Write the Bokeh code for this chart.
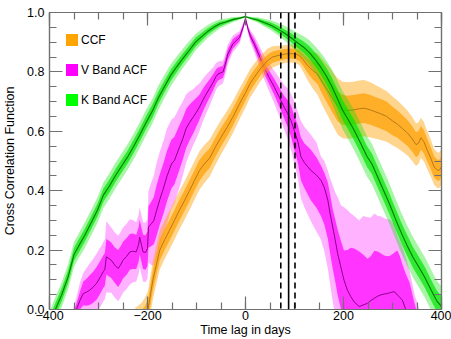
import numpy as np
from bokeh.plotting import figure
from bokeh.models import (ColumnDataSource, LinearAxis, SingleIntervalTicker, Span,
                          Legend, LegendItem, PrintfTickFormatter, Range1d,
                          CustomLabelingPolicy)
from bokeh.embed import file_html
from bokeh.resources import INLINE

# ---------------- data ----------------
# K band ACF
k_days = [-400, -388, -375, -362, -350, -340, -328, -315, -302, -290,
          -278, -265, -252, -240, -228, -215, -202, -190, -178, -165,
          -152, -140, -128, -115, -102, -90, -78, -65, -52, -40,
          -26, -12, 0, 12, 25, 38, 52, 66, 80, 93,
          106, 118, 130, 142, 154, 165, 176, 187, 198, 210,
          222, 235, 248, 258, 270, 282, 294, 306, 318, 330,
          342, 354, 366, 378, 390, 400]
k_acf = [-0.050, 0.000, 0.050, 0.110, 0.185, 0.215, 0.250, 0.292, 0.335, 0.385,
         0.415, 0.452, 0.485, 0.515, 0.550, 0.590, 0.632, 0.668, 0.712, 0.752,
         0.790, 0.818, 0.845, 0.872, 0.900, 0.918, 0.935, 0.950, 0.962, 0.968,
         0.976, 0.981, 0.986, 0.980, 0.975, 0.966, 0.957, 0.944, 0.930, 0.915,
         0.898, 0.884, 0.866, 0.842, 0.815, 0.786, 0.752, 0.712, 0.672, 0.638,
         0.603, 0.560, 0.515, 0.490, 0.445, 0.400, 0.355, 0.305, 0.258, 0.215,
         0.175, 0.142, 0.108, 0.068, 0.030, 0.010]
k_err1 = [0.022, 0.022, 0.022, 0.022, 0.022, 0.022, 0.022, 0.022, 0.022, 0.022,
          0.022, 0.022, 0.022, 0.022, 0.022, 0.022, 0.022, 0.022, 0.021, 0.020,
          0.019, 0.018, 0.017, 0.016, 0.015, 0.013, 0.011, 0.010, 0.008, 0.006,
          0.005, 0.003, 0.001, 0.003, 0.005, 0.007, 0.009, 0.011, 0.013, 0.015,
          0.017, 0.019, 0.021, 0.023, 0.025, 0.027, 0.029, 0.031, 0.033, 0.034,
          0.035, 0.035, 0.035, 0.035, 0.035, 0.035, 0.035, 0.035, 0.035, 0.035,
          0.035, 0.035, 0.035, 0.035, 0.035, 0.035]
k_err2 = [0.042, 0.042, 0.042, 0.042, 0.042, 0.042, 0.043, 0.043, 0.043, 0.043,
          0.043, 0.043, 0.043, 0.043, 0.043, 0.043, 0.043, 0.042, 0.041, 0.039,
          0.037, 0.035, 0.033, 0.031, 0.028, 0.025, 0.022, 0.019, 0.015, 0.012,
          0.009, 0.005, 0.002, 0.005, 0.009, 0.013, 0.017, 0.021, 0.025, 0.029,
          0.033, 0.037, 0.041, 0.045, 0.049, 0.053, 0.057, 0.061, 0.064, 0.066,
          0.068, 0.068, 0.068, 0.068, 0.068, 0.068, 0.068, 0.068, 0.068, 0.068,
          0.068, 0.068, 0.068, 0.068, 0.068, 0.068]

# V band ACF (bands are asymmetric on the right-hand side)
v_days = [-352, -345, -338, -331, -325, -318, -311, -304, -296, -290,
          -287, -284, -279, -274, -267, -260, -255, -250, -243, -236,
          -230, -223, -218, -216, -212, -209, -204, -200, -198, -192,
          -187, -182, -175, -168, -160, -151, -145, -135, -128, -121,
          -114, -107, -100, -94, -87, -80, -73, -66, -60, -56,
          -50, -46, -43, -39, -36, -30, -26, -19, -12, -5,
          0, 5, 10, 18, 28, 38, 48, 59, 69, 79,
          86, 93, 100, 107, 113, 120, 133, 145, 154, 161,
          168, 173, 178, 183, 188, 195, 201, 208, 215, 222,
          232, 240, 249, 256, 263, 270, 276, 283, 290, 296,
          303, 307, 310, 315, 320, 327, 335, 345, 355]
v_acf = [-0.020, 0.000, 0.030, 0.054, 0.058, 0.065, 0.075, 0.088, 0.110, 0.128,
         0.135, 0.177, 0.172, 0.166, 0.150, 0.138, 0.150, 0.166, 0.178, 0.194,
         0.196, 0.194, 0.220, 0.244, 0.215, 0.194, 0.192, 0.205, 0.278, 0.289,
         0.300, 0.330, 0.370, 0.405, 0.450, 0.490, 0.502, 0.545, 0.575, 0.610,
         0.630, 0.647, 0.665, 0.681, 0.705, 0.726, 0.745, 0.765, 0.785, 0.793,
         0.797, 0.800, 0.815, 0.840, 0.860, 0.880, 0.894, 0.905, 0.916, 0.950,
         0.980, 0.945, 0.920, 0.894, 0.855, 0.815, 0.782, 0.748, 0.715, 0.681,
         0.660, 0.636, 0.600, 0.565, 0.515, 0.495, 0.469, 0.452, 0.435, 0.410,
         0.368, 0.320, 0.278, 0.235, 0.189, 0.140, 0.099, 0.065, 0.043, 0.025,
         0.010, 0.015, 0.021, 0.030, 0.038, 0.045, 0.049, 0.052, 0.054, 0.057,
         0.060, 0.055, 0.049, 0.040, 0.032, 0.000, -0.050, -0.120, -0.200]
v_dark_lo = [0.010, 0.020, 0.030, 0.040, 0.045, 0.050, 0.052, 0.055, 0.055, 0.055,
             0.055, 0.060, 0.060, 0.060, 0.060, 0.062, 0.062, 0.062, 0.062, 0.060,
             0.060, 0.058, 0.058, 0.058, 0.058, 0.058, 0.058, 0.058, 0.070, 0.075,
             0.080, 0.085, 0.085, 0.085, 0.085, 0.082, 0.080, 0.075, 0.070, 0.065,
             0.060, 0.055, 0.048, 0.042, 0.038, 0.034, 0.030, 0.027, 0.024, 0.022,
             0.021, 0.020, 0.020, 0.019, 0.018, 0.017, 0.016, 0.014, 0.012, 0.008,
             0.003, 0.008, 0.012, 0.015, 0.018, 0.020, 0.023, 0.027, 0.032, 0.038,
             0.045, 0.055, 0.065, 0.072, 0.080, 0.085, 0.100, 0.110, 0.120, 0.125,
             0.130, 0.135, 0.140, 0.140, 0.140, 0.140, 0.140, 0.140, 0.140, 0.140,
             0.140, 0.140, 0.140, 0.140, 0.140, 0.140, 0.140, 0.140, 0.140, 0.140,
             0.140, 0.140, 0.140, 0.140, 0.140, 0.140, 0.140, 0.140, 0.140]
v_dark_hi = [0.010, 0.020, 0.030, 0.040, 0.045, 0.050, 0.052, 0.055, 0.055, 0.055,
             0.055, 0.060, 0.060, 0.060, 0.060, 0.062, 0.062, 0.062, 0.062, 0.060,
             0.060, 0.058, 0.058, 0.058, 0.058, 0.058, 0.058, 0.058, 0.070, 0.075,
             0.080, 0.085, 0.085, 0.085, 0.085, 0.082, 0.080, 0.075, 0.070, 0.065,
             0.060, 0.055, 0.048, 0.042, 0.038, 0.034, 0.030, 0.027, 0.024, 0.022,
             0.021, 0.020, 0.020, 0.019, 0.018, 0.017, 0.016, 0.014, 0.012, 0.008,
             0.003, 0.008, 0.012, 0.015, 0.018, 0.020, 0.023, 0.027, 0.032, 0.038,
             0.045, 0.050, 0.050, 0.055, 0.065, 0.065, 0.070, 0.060, 0.050, 0.050,
             0.060, 0.065, 0.060, 0.070, 0.080, 0.090, 0.100, 0.135, 0.165, 0.180,
             0.185, 0.170, 0.150, 0.150, 0.160, 0.150, 0.140, 0.130, 0.125, 0.125,
             0.130, 0.140, 0.150, 0.140, 0.120, 0.120, 0.140, 0.140, 0.160]
v_light_lo = [0.020, 0.040, 0.060, 0.070, 0.080, 0.090, 0.095, 0.100, 0.100, 0.100,
              0.100, 0.120, 0.115, 0.110, 0.110, 0.110, 0.110, 0.110, 0.110, 0.110,
              0.105, 0.100, 0.100, 0.100, 0.100, 0.100, 0.100, 0.100, 0.120, 0.140,
              0.150, 0.160, 0.160, 0.160, 0.160, 0.150, 0.145, 0.135, 0.125, 0.115,
              0.105, 0.095, 0.088, 0.080, 0.072, 0.065, 0.058, 0.050, 0.045, 0.042,
              0.040, 0.038, 0.037, 0.035, 0.033, 0.030, 0.028, 0.025, 0.021, 0.014,
              0.005, 0.014, 0.020, 0.028, 0.034, 0.040, 0.046, 0.055, 0.065, 0.075,
              0.085, 0.100, 0.110, 0.125, 0.140, 0.150, 0.170, 0.190, 0.200, 0.215,
              0.230, 0.240, 0.250, 0.255, 0.260, 0.260, 0.260, 0.260, 0.260, 0.260,
              0.260, 0.260, 0.260, 0.260, 0.260, 0.260, 0.260, 0.260, 0.260, 0.260,
              0.260, 0.260, 0.260, 0.260, 0.260, 0.260, 0.260, 0.260, 0.260]
v_light_hi = [0.020, 0.040, 0.060, 0.070, 0.080, 0.090, 0.095, 0.100, 0.100, 0.100,
              0.100, 0.120, 0.115, 0.110, 0.110, 0.110, 0.110, 0.110, 0.110, 0.110,
              0.105, 0.100, 0.100, 0.100, 0.100, 0.100, 0.100, 0.100, 0.120, 0.140,
              0.150, 0.160, 0.160, 0.160, 0.160, 0.150, 0.145, 0.135, 0.125, 0.115,
              0.105, 0.095, 0.088, 0.080, 0.072, 0.065, 0.058, 0.050, 0.045, 0.042,
              0.040, 0.038, 0.037, 0.035, 0.033, 0.030, 0.028, 0.025, 0.021, 0.014,
              0.005, 0.014, 0.020, 0.028, 0.034, 0.040, 0.046, 0.055, 0.065, 0.075,
              0.085, 0.090, 0.100, 0.100, 0.120, 0.120, 0.120, 0.110, 0.080, 0.090,
              0.100, 0.120, 0.140, 0.160, 0.190, 0.210, 0.245, 0.270, 0.280, 0.290,
              0.290, 0.300, 0.290, 0.280, 0.285, 0.270, 0.265, 0.255, 0.250, 0.245,
              0.225, 0.210, 0.200, 0.190, 0.180, 0.175, 0.180, 0.170, 0.200]

# CCF
c_days = [-225, -212, -205, -199, -195, -189, -182, -175, -165, -155,
          -145, -135, -124, -114, -104, -94, -84, -73, -62, -50,
          -38, -26, -13, 0, 9, 18, 30, 45, 55, 66,
          80, 93, 103, 110, 118, 127, 137, 147, 157, 168,
          178, 188, 198, 208, 220, 232, 242, 255, 266, 276,
          288, 300, 310, 320, 330, 340, 348, 353, 358, 364,
          371, 378, 385, 391, 395, 400]
c_ccf = [-0.050, -0.035, -0.020, 0.000, 0.040, 0.099, 0.150, 0.200, 0.235, 0.267,
         0.300, 0.334, 0.368, 0.401, 0.435, 0.468, 0.490, 0.510, 0.545, 0.580,
         0.612, 0.647, 0.690, 0.730, 0.760, 0.782, 0.810, 0.838, 0.850, 0.855,
         0.860, 0.862, 0.860, 0.855, 0.840, 0.821, 0.805, 0.793, 0.765, 0.737,
         0.710, 0.684, 0.672, 0.670, 0.672, 0.676, 0.678, 0.672, 0.665, 0.659,
         0.650, 0.635, 0.624, 0.610, 0.595, 0.575, 0.555, 0.560, 0.578, 0.565,
         0.536, 0.510, 0.480, 0.470, 0.468, 0.480]
c_err1 = [0.030, 0.032, 0.033, 0.034, 0.035, 0.035, 0.035, 0.035, 0.035, 0.035,
          0.035, 0.035, 0.035, 0.035, 0.035, 0.035, 0.034, 0.033, 0.032, 0.031,
          0.030, 0.029, 0.028, 0.027, 0.026, 0.025, 0.023, 0.021, 0.019, 0.018,
          0.017, 0.017, 0.017, 0.018, 0.020, 0.025, 0.030, 0.035, 0.040, 0.045,
          0.048, 0.050, 0.050, 0.050, 0.050, 0.050, 0.050, 0.050, 0.050, 0.050,
          0.050, 0.048, 0.046, 0.045, 0.044, 0.043, 0.042, 0.041, 0.040, 0.039,
          0.038, 0.037, 0.036, 0.035, 0.035, 0.035]
c_err2 = [0.055, 0.058, 0.060, 0.062, 0.064, 0.065, 0.065, 0.065, 0.065, 0.065,
          0.065, 0.065, 0.065, 0.065, 0.065, 0.065, 0.064, 0.062, 0.060, 0.058,
          0.056, 0.054, 0.052, 0.050, 0.048, 0.046, 0.043, 0.040, 0.036, 0.033,
          0.030, 0.030, 0.031, 0.033, 0.040, 0.050, 0.060, 0.070, 0.078, 0.085,
          0.090, 0.095, 0.095, 0.095, 0.095, 0.095, 0.095, 0.093, 0.090, 0.088,
          0.085, 0.082, 0.080, 0.078, 0.076, 0.074, 0.072, 0.070, 0.068, 0.066,
          0.064, 0.062, 0.060, 0.060, 0.060, 0.060]

lag_centroid = 88
lag_low = 72
lag_high = 101

x_tick_step = 200
y_tick_step = 0.2

legend_labels = ["CCF", "V Band ACF", "K Band ACF"]

# ---------------- figure ----------------
FONT = "Liberation Sans"
AXC = "#707070"

p = figure(width=451, height=339, output_backend="svg", toolbar_location=None,
           x_range=Range1d(-400, 400), y_range=Range1d(0, 1.0),
           min_border_left=48, min_border_right=10, min_border_top=12,
           min_border_bottom=5)
p.xgrid.visible = False
p.ygrid.visible = False
p.outline_line_color = AXC
p.outline_line_width = 1.2
p.background_fill_color = "white"
p.border_fill_color = "white"


def add_series(days, val, d_lo, d_hi, l_lo, l_hi, color, a_light, a_dark, line_color, lw):
    d = np.array(days, dtype=float)
    v = np.array(val, dtype=float)
    src = ColumnDataSource(dict(
        x=d, y=v,
        lo2=v - np.array(l_lo), hi2=v + np.array(l_hi),
        lo1=v - np.array(d_lo), hi1=v + np.array(d_hi)))
    p.varea(x="x", y1="lo2", y2="hi2", source=src, fill_color=color, fill_alpha=a_light)
    p.varea(x="x", y1="lo1", y2="hi1", source=src, fill_color=color, fill_alpha=a_dark)
    p.line(x="x", y="y", source=src, line_color=line_color, line_width=lw)
    return src


v_src = add_series(v_days, v_acf, v_dark_lo, v_dark_hi, v_light_lo, v_light_hi,
                   "#FF00FF", 0.30, 0.70, "#8B008B", 1.0)
c_src = add_series(c_days, c_ccf, c_err1, c_err1, c_err2, c_err2,
                   "#FFA000", 0.45, 0.72, "#B87818", 1.0)
k_src = add_series(k_days, k_acf, k_err1, k_err1, k_err2, k_err2,
                   "#00E600", 0.35, 0.70, "#007A00", 1.1)

# lag lines
p.add_layout(Span(location=lag_centroid, dimension="height", line_color="black", line_width=1.6))
p.add_layout(Span(location=lag_low, dimension="height", line_color="black", line_width=1.6,
                  line_dash="6 4"))
p.add_layout(Span(location=lag_high, dimension="height", line_color="black", line_width=1.6,
                  line_dash="6 4"))

# legend (solid squares) -- zero-height areas used only as legend glyphs
items = []
for lab, col, src in zip(legend_labels, ["#FFA500", "#FF00FF", "#00FF00"],
                         [c_src, v_src, k_src]):
    r = p.varea(x="x", y1="y", y2="y", source=src, fill_color=col, fill_alpha=1.0)
    items.append(LegendItem(label=lab, renderers=[r]))
leg = Legend(items=items, location="top_left", margin=15, padding=9,
             glyph_width=15, glyph_height=15, label_height=25, spacing=5,
             label_standoff=2, label_text_font=FONT, label_text_font_size="12px",
             label_text_color="black", border_line_color=None,
             background_fill_alpha=0)
p.add_layout(leg)

hide_labels = CustomLabelingPolicy(code="""
    const n = indices.size
    for (let i = 0; i < n; i++) { indices.unset(i) }
    return indices
""")


def style_axis(ax, show_labels):
    ax.axis_line_color = AXC
    ax.axis_line_width = 1.2
    ax.major_tick_line_color = AXC
    ax.minor_tick_line_color = AXC
    ax.major_tick_line_width = 1.2
    ax.minor_tick_line_width = 1.2
    ax.major_tick_in = 13
    ax.major_tick_out = 0
    ax.minor_tick_in = 7
    ax.minor_tick_out = 0
    ax.major_label_text_font = FONT
    ax.major_label_text_color = "black"
    ax.axis_label_text_font = FONT
    ax.axis_label_text_font_style = "normal"
    ax.axis_label_text_color = "black"
    if not show_labels:
        ax.major_label_policy = hide_labels
        ax.major_label_text_font_size = "0px"
        ax.major_label_standoff = 0


xt = SingleIntervalTicker(interval=x_tick_step, num_minor_ticks=4)
yt = SingleIntervalTicker(interval=y_tick_step, num_minor_ticks=4)

xa = p.xaxis[0]
xa.ticker = xt
style_axis(xa, True)
xa.major_label_text_font_size = "12.5px"
xa.major_label_standoff = 1
xa.axis_label = "Time lag in days"
xa.axis_label_text_font_size = "12.5px"
xa.axis_label_standoff = 0

ya = p.yaxis[0]
ya.ticker = yt
style_axis(ya, True)
ya.formatter = PrintfTickFormatter(format="%.1f")
ya.major_label_text_font_size = "12.5px"
ya.major_label_standoff = 5
ya.axis_label = "Cross Correlation Function"
ya.axis_label_text_font_size = "12.5px"
ya.axis_label_standoff = 7

ta = LinearAxis(ticker=xt)
style_axis(ta, False)
p.add_layout(ta, "above")
ra = LinearAxis(ticker=yt)
style_axis(ra, False)
p.add_layout(ra, "right")

open("out.html", "w").write(file_html(p, INLINE))
